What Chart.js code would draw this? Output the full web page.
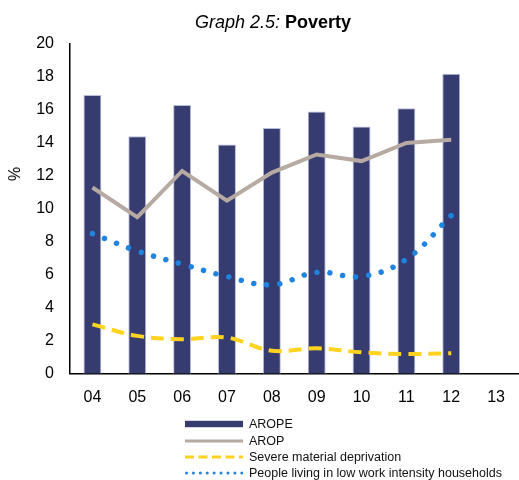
<!DOCTYPE html>
<html>
<head>
<meta charset="utf-8">
<script src="https://cdn.jsdelivr.net/npm/chart.js@4/dist/chart.umd.min.js"></script>
<style>
  html, body { margin: 0; padding: 0; background: #fff; }
  #wrap { position: relative; width: 519px; height: 480px; overflow: hidden; font-family: "Liberation Sans", Arial, sans-serif; }
  #chartBox { position: absolute; left: 0; top: 0; width: 519px; height: 480px; }
  #title { position: absolute; left: 0; width: 546px; top: 10px; text-align: center; font-size: 18px; color: #000; line-height: 24px; }
  #title i { font-style: italic; }
  #title b { font-weight: bold; }
  #ytitle { position: absolute; left: 15px; top: 174px; font-size: 16px; color: #000; transform: translate(-50%, -50%) rotate(-90deg); line-height: 18px; }
  #legend { position: absolute; left: 185px; top: 416px; font-size: 12.5px; color: #111; }
  .row { height: 16.4px; display: flex; align-items: center; white-space: nowrap; }
  .row svg { width: 58px; height: 10px; margin-right: 6px; flex: none; }
</style>
</head>
<body>
<div id="wrap">
  <div id="chartBox"><canvas id="c" width="519" height="480"></canvas></div>
  <div id="title"><i>Graph 2.5:</i> <b>Poverty</b></div>
  <div id="ytitle">%</div>
  <div id="legend"></div>
</div>
<script>
const categories = ["04", "05", "06", "07", "08", "09", "10", "11", "12", "13"];
const yTicks = [0, 2, 4, 6, 8, 10, 12, 14, 16, 18, 20];
const seriesNames = ["AROPE", "AROP", "Severe material deprivation", "People living in low work intensity households"];
const arope = [16.9, 14.4, 16.3, 13.9, 14.9, 15.9, 15.0, 16.1, 18.2, null];
const arop = [11.3, 9.5, 12.3, 10.5, 12.2, 13.3, 12.9, 14.0, 14.2, null];
const severeDeprivation = [3.0, 2.3, 2.1, 2.2, 1.4, 1.55, 1.3, 1.2, 1.25, null];
const lowWorkIntensity = [8.5, 7.45, 6.65, 5.9, 5.4, 6.15, 5.9, 6.95, 9.6, null];

const FONT = "'Liberation Sans', Arial, sans-serif";
const colBar = "#363b70", colBarBorder = "#b9bcd8";
const colArop = "#b6aaa2", colYellow = "#ffd320", colBlue = "#1f84e0";

const chart = new Chart(document.getElementById("c"), {
  type: "bar",
  data: {
    labels: categories,
    datasets: [
      { type: "bar", label: seriesNames[0], data: arope, backgroundColor: colBar, borderColor: colBarBorder, borderWidth: 1, barPercentage: 0.4, categoryPercentage: 1, order: 5 },
      { type: "line", label: seriesNames[1], data: arop, borderColor: colArop, borderWidth: 4, pointRadius: 0, tension: 0, fill: false, order: 3, borderJoinStyle: "miter" },
      { type: "line", label: seriesNames[2], data: severeDeprivation, borderColor: colYellow, borderWidth: 4, borderDash: [13, 7], pointRadius: 0, tension: 0.35, fill: false, order: 2 },
      { type: "line", label: seriesNames[3], data: lowWorkIntensity, borderColor: colBlue, borderWidth: 5.5, borderDash: [0.01, 13], borderCapStyle: "round", pointRadius: 0, tension: 0.4, fill: false, order: 1 }
    ]
  },
  options: {
    responsive: false,
    animation: false,
    layout: { padding: { top: 44, right: 0, bottom: 59, left: 0 } },
    plugins: { legend: { display: false }, title: { display: false }, tooltip: { enabled: false } },
    scales: {
      x: {
        offset: true,
        grid: { display: false, drawTicks: false },
        border: { display: true, color: "#000", width: 1.5 },
        ticks: { color: "#000", font: { family: FONT, size: 16 }, padding: 14, maxRotation: 0 }
      },
      y: {
        min: 0, max: 20,
        afterBuildTicks: (axis) => { axis.ticks = yTicks.map(v => ({ value: v })); },
        afterFit: (axis) => { axis.width = 70; },
        grid: { display: false, drawTicks: false },
        border: { display: true, color: "#000", width: 1.5 },
        ticks: { color: "#000", font: { family: FONT, size: 16 }, padding: 16 },
        title: { display: false }
      }
    }
  }
});

// HTML legend built from the chart's dataset styles
const legend = document.getElementById("legend");
chart.data.datasets.forEach(ds => {
  const row = document.createElement("div");
  row.className = "row";
  let svg;
  if (ds.type === "bar") {
    svg = `<svg viewBox="0 0 58 10"><rect x="0" y="1.8" width="58" height="6.4" fill="${ds.backgroundColor}"/></svg>`;
  } else if (ds.borderDash && ds.borderDash[0] < 1) {
    svg = `<svg viewBox="0 0 58 10"><line x1="1.5" y1="5" x2="57" y2="5" stroke="${ds.borderColor}" stroke-width="3" stroke-linecap="round" stroke-dasharray="0.01 6.9"/></svg>`;
  } else if (ds.borderDash) {
    svg = `<svg viewBox="0 0 58 10"><line x1="0" y1="5" x2="58" y2="5" stroke="${ds.borderColor}" stroke-width="3" stroke-dasharray="9 4.5"/></svg>`;
  } else {
    svg = `<svg viewBox="0 0 58 10"><line x1="0" y1="5" x2="58" y2="5" stroke="${ds.borderColor}" stroke-width="3"/></svg>`;
  }
  row.innerHTML = svg + `<span>${ds.label}</span>`;
  legend.appendChild(row);
});
</script>
</body>
</html>
